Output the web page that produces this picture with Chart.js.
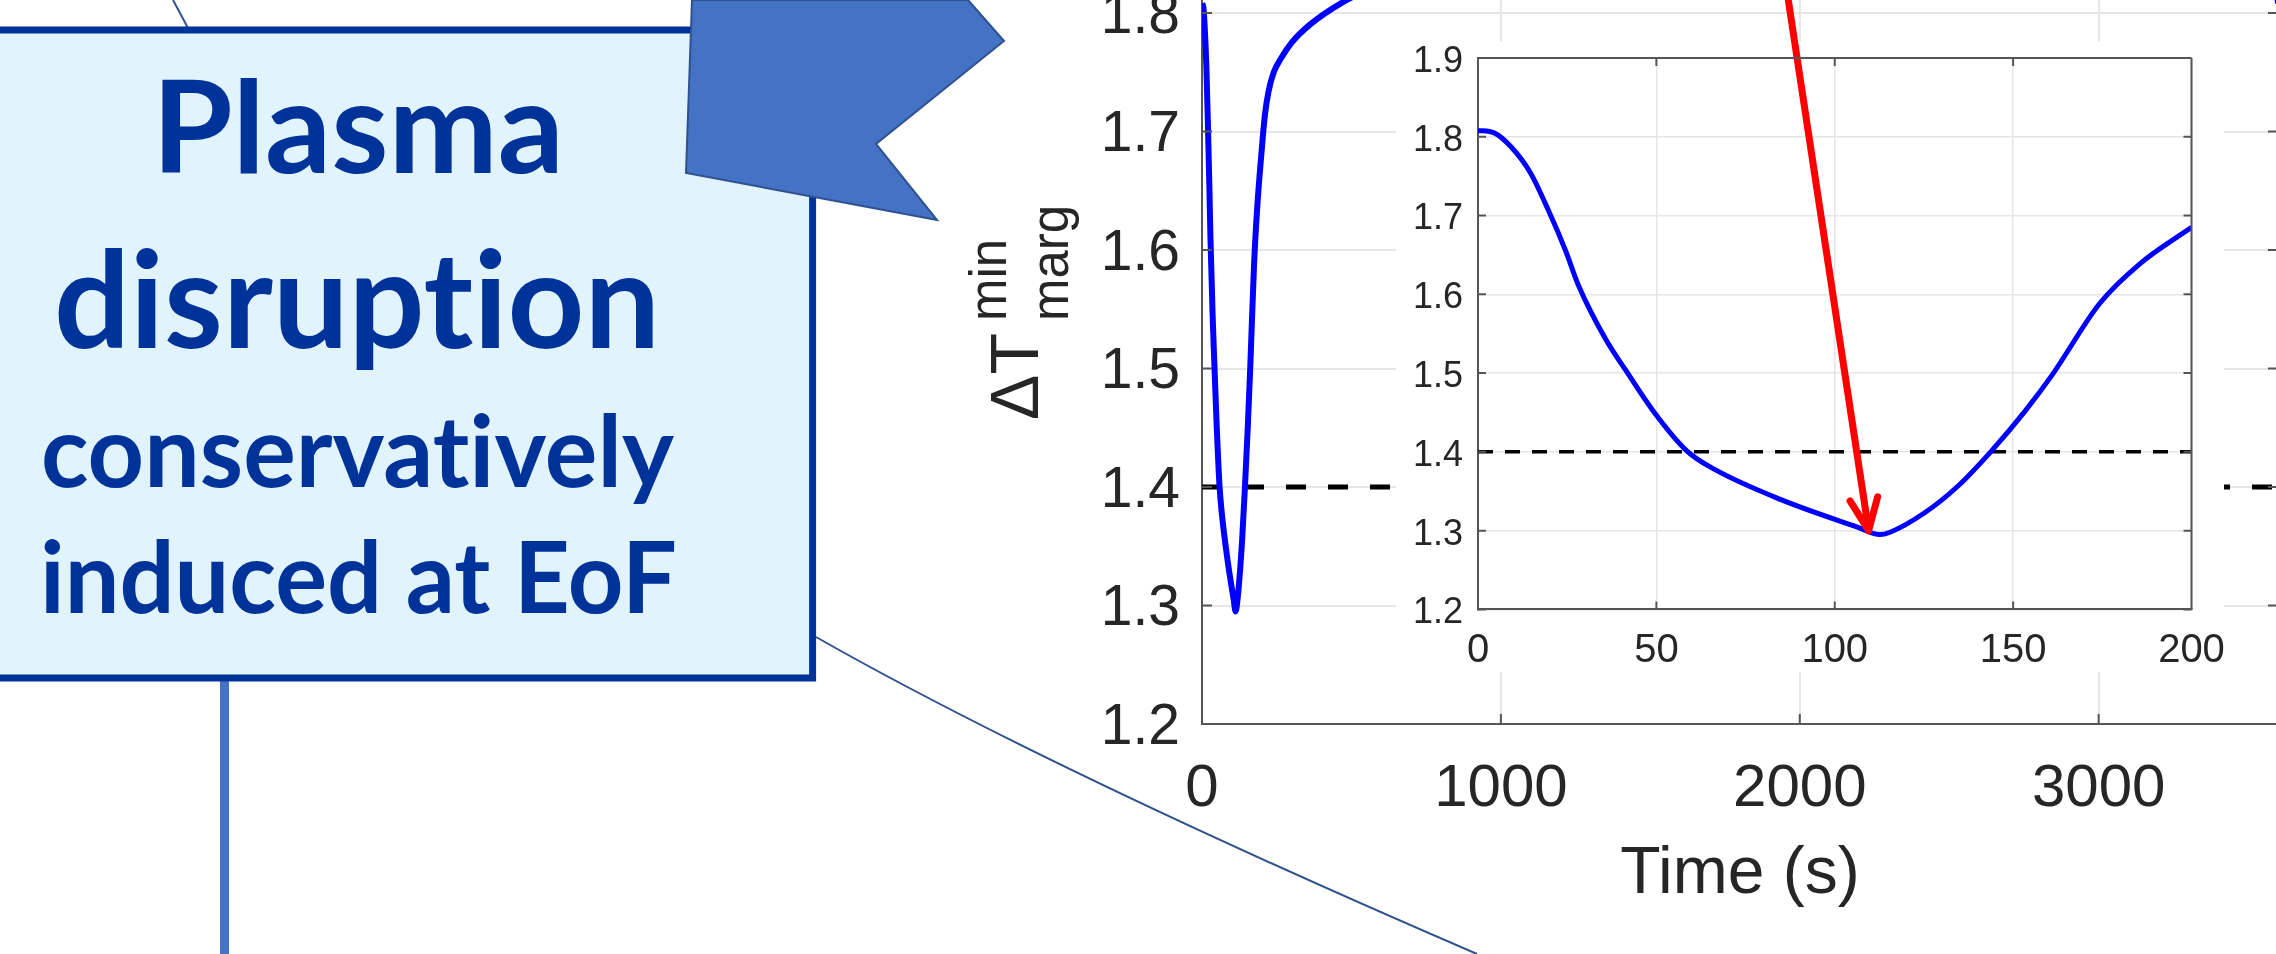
<!DOCTYPE html>
<html lang="en">
<head>
<meta charset="UTF-8">
<title>Plasma disruption - minimum temperature margin</title>
<script src="https://cdn.jsdelivr.net/npm/chart.js"></script>
<style>
  html, body { margin: 0; padding: 0; background: #fff; overflow: hidden; }
  #stage { position: relative; width: 2276px; height: 954px; overflow: hidden; }
  #mainChart { position: absolute; left: 0; top: 0; }
  #insetChart { position: absolute; left: 1396px; top: 0; }
  #notes { position: absolute; left: 0; top: 0; pointer-events: none; }
  #notes text { font-variant-ligatures: none; font-feature-settings: "liga" 0, "clig" 0; }
</style>
</head>
<body>
<div id="stage">
  <canvas id="mainChart" width="2280" height="954"></canvas>
  <canvas id="insetChart" width="828" height="672"></canvas>

  <!-- slide annotation: text box, callout pointer and connectors -->
  <svg id="notes" width="2276" height="954" viewBox="0 0 2276 954">
    <line x1="224.5" y1="678" x2="224.5" y2="954" stroke="#4472c4" stroke-width="9"/>
    <line x1="173" y1="0" x2="188" y2="28" stroke="#2f528f" stroke-width="2"/>
    <path d="M816 637 Q1050 770 1477 954" fill="none" stroke="#2f528f" stroke-width="2"/>
    <rect x="-100" y="30" width="912.6" height="648" fill="#e1f3fd" stroke="#003399" stroke-width="7"/>
    <polygon points="692,0 968,0 1004,41 876,144 937,220 686,173" fill="#4472c4" stroke="#2f528f" stroke-width="2"/>
    <g font-family="Lato, 'Open Sans', sans-serif" font-weight="bold" fill="#003399" text-anchor="middle">
      <text x="358" y="173" font-size="128" textLength="412" lengthAdjust="spacingAndGlyphs">Plasma</text>
      <text x="357" y="348" font-size="134" textLength="606" lengthAdjust="spacingAndGlyphs">disruption</text>
      <text x="357.5" y="487" font-size="100" textLength="633" lengthAdjust="spacingAndGlyphs">conservatively</text>
      <text x="358.5" y="613" font-size="100" textLength="637" lengthAdjust="spacingAndGlyphs">induced at EoF</text>
    </g>
  </svg>
</div>

<script>
// ---- data ----
// zoomed window (first 200 s)
const insetTime   = [0, 4.5, 9.3, 14.6, 19.7, 24.5, 28.2, 35.8, 41.5, 49.1, 58.6, 66.2, 85.1, 106, 112.6, 115.5, 125, 134.4, 143.9, 153.4, 161, 174.2, 185.6, 200];
const insetMargin = [1.808, 1.805, 1.787, 1.755, 1.707, 1.656, 1.611, 1.543, 1.503, 1.452, 1.401, 1.378, 1.339, 1.305, 1.295, 1.298, 1.322, 1.356, 1.401, 1.452, 1.498, 1.588, 1.639, 1.685];
// rest of the full run (mostly above the cropped top)
const tailTime   = [210, 222, 240, 265, 300, 360, 470, 600, 800, 1100, 1600, 2400, 3200, 3500, 3570, 3600];
const tailMargin = [1.713, 1.733, 1.750, 1.762, 1.775, 1.790, 1.809, 1.825, 1.85, 1.87, 1.89, 1.90, 1.91, 1.91, 1.88, 1.808];

const thresholdMargin = 1.4;
const mainXTicks  = [0, 1000, 2000, 3000];
const mainYTicks  = [1.2, 1.3, 1.4, 1.5, 1.6, 1.7, 1.8];
const insetXTicks = [0, 50, 100, 150, 200];
const insetYTicks = [1.2, 1.3, 1.4, 1.5, 1.6, 1.7, 1.8, 1.9];
// red arrow pointing at the minimum (inset data coords)
const arrowTime   = [87, 109.5];
const arrowMargin = [1.973, 1.30];

// ---- styles ----
const fontFamily = "'Liberation Sans', Arial, Helvetica, sans-serif";
const axisGray = '#555555';
const labelGray = '#262626';
const gridGray = '#e6e6e6';
const curveBlue = '#0000ff';
const arrowRed = '#ff0000';

const toPoints = (xs, ys) => xs.map((x, i) => ({ x: x, y: ys[i] }));
const fixedTicks = list => axis => { axis.ticks = list.map(v => ({ value: v })); };

// MATLAB style box: closing spines and inward tick marks
function boxPlugin(id, tickLen, drawTop) {
  return {
    id: id,
    afterDraw(chart) {
      const { ctx, chartArea: a, scales: { x, y } } = chart;
      ctx.save();
      ctx.strokeStyle = axisGray;
      ctx.lineWidth = 2;
      ctx.beginPath();
      ctx.moveTo(a.right, a.bottom);
      ctx.lineTo(a.right, a.top);
      if (drawTop) {
        ctx.moveTo(a.left, a.top);
        ctx.lineTo(a.right, a.top);
      }
      x.ticks.forEach(t => {
        const px = x.getPixelForValue(t.value);
        ctx.moveTo(px, a.bottom);
        ctx.lineTo(px, a.bottom - tickLen);
        if (drawTop) {
          ctx.moveTo(px, a.top);
          ctx.lineTo(px, a.top + tickLen);
        }
      });
      y.ticks.forEach(t => {
        const py = y.getPixelForValue(t.value);
        ctx.moveTo(a.left, py);
        ctx.lineTo(a.left + tickLen, py);
        ctx.moveTo(a.right, py);
        ctx.lineTo(a.right - tickLen, py);
      });
      ctx.stroke();
      ctx.restore();
    }
  };
}

// y axis label with stacked super/subscript
const yLabelPlugin = {
  id: 'yLabel',
  afterDraw(chart) {
    const ctx = chart.ctx;
    ctx.save();
    ctx.translate(1038, 420);
    ctx.rotate(-Math.PI / 2);
    ctx.fillStyle = labelGray;
    ctx.textBaseline = 'alphabetic';
    ctx.font = '68px ' + fontFamily;
    ctx.fillText('\u0394T', 0, 0);
    const w = ctx.measureText('\u0394T').width + 12;
    ctx.font = '51px ' + fontFamily;
    ctx.fillText('min', w, -32);
    ctx.fillText('marg', w, 30);
    ctx.restore();
  }
};

const insetBackground = {
  id: 'insetBackground',
  beforeDraw(chart) {
    const ctx = chart.ctx;
    ctx.save();
    ctx.fillStyle = '#ffffff';
    ctx.fillRect(0, 42, chart.width, chart.height - 42);
    ctx.restore();
  }
};

const arrowHead = {
  id: 'arrowHead',
  afterDatasetsDraw(chart) {
    const pts = chart.getDatasetMeta(0).data;
    const tip = pts[pts.length - 1], tail = pts[pts.length - 2];
    const ang = Math.atan2(tip.y - tail.y, tip.x - tail.x);
    const ctx = chart.ctx;
    ctx.save();
    ctx.strokeStyle = arrowRed;
    ctx.lineWidth = 7;
    ctx.lineCap = 'round';
    ctx.beginPath();
    [-1, 1].forEach(s => {
      const a = ang + Math.PI + s * 0.41;
      ctx.moveTo(tip.x + 35 * Math.cos(a), tip.y + 35 * Math.sin(a));
      ctx.lineTo(tip.x, tip.y);
    });
    ctx.stroke();
    ctx.restore();
  }
};

Chart.defaults.font.family = fontFamily;
Chart.defaults.color = labelGray;

// ---- main chart (full run) ----
new Chart(document.getElementById('mainChart'), {
  type: 'scatter',
  data: {
    datasets: [{
      data: toPoints(insetTime, insetMargin).concat(toPoints(tailTime, tailMargin)),
      showLine: true,
      borderColor: curveBlue,
      borderWidth: 6,
      pointRadius: 0,
      cubicInterpolationMode: 'monotone'
    }, {
      data: toPoints([0, 3600], [thresholdMargin, thresholdMargin]),
      showLine: true,
      borderColor: '#000000',
      borderWidth: 5,
      borderDash: [20, 22],
      pointRadius: 0
    }]
  },
  options: {
    responsive: false,
    devicePixelRatio: 1,
    animation: false,
    layout: { padding: { left: 0, right: 2, top: 0, bottom: 0 } },
    plugins: { legend: { display: false }, tooltip: { enabled: false } },
    scales: {
      x: {
        type: 'linear', min: 0, max: 3600,
        afterBuildTicks: fixedTicks(mainXTicks),
        afterFit: s => { s.height = 230; s.paddingLeft = 0; s.paddingRight = 0; },
        grid: { color: gridGray, lineWidth: 2, drawTicks: false },
        border: { color: axisGray, width: 2 },
        ticks: { font: { size: 60 }, color: labelGray, padding: 29, autoSkip: false, maxRotation: 0,
                 callback: v => String(v) },
        title: { display: true, text: 'Time (s)', font: { size: 66 }, color: labelGray, padding: { top: 0, bottom: 40 } }
      },
      y: {
        min: 1.2, max: 1.811,
        afterBuildTicks: fixedTicks(mainYTicks),
        afterFit: s => { s.width = 1202; s.paddingTop = 0; s.paddingBottom = 0; },
        grid: { color: gridGray, lineWidth: 2, drawTicks: false },
        border: { color: axisGray, width: 2 },
        ticks: { font: { size: 57 }, color: labelGray, padding: 22, labelOffset: 4, autoSkip: false,
                 callback: v => v.toFixed(1) }
      }
    }
  },
  plugins: [boxPlugin('mainBox', 10, false), yLabelPlugin]
});

// ---- inset (first 200 s) ----
new Chart(document.getElementById('insetChart'), {
  type: 'scatter',
  data: {
    datasets: [{
      data: toPoints(arrowTime, arrowMargin),
      showLine: true,
      borderColor: arrowRed,
      borderWidth: 7,
      borderCapStyle: 'round',
      pointRadius: 0,
      clip: false
    }, {
      data: toPoints(insetTime, insetMargin),
      showLine: true,
      borderColor: curveBlue,
      borderWidth: 5,
      pointRadius: 0,
      cubicInterpolationMode: 'monotone'
    }, {
      data: toPoints([0, 200], [thresholdMargin, thresholdMargin]),
      showLine: true,
      borderColor: '#000000',
      borderWidth: 3.5,
      borderDash: [15, 12],
      pointRadius: 0
    }]
  },
  options: {
    responsive: false,
    devicePixelRatio: 1,
    animation: false,
    layout: { padding: { left: 0, right: 32.5, top: 58, bottom: 0 } },
    plugins: { legend: { display: false }, tooltip: { enabled: false } },
    scales: {
      x: {
        type: 'linear', min: 0, max: 200,
        afterBuildTicks: fixedTicks(insetXTicks),
        afterFit: s => { s.height = 62.6; s.paddingLeft = 0; s.paddingRight = 0; },
        grid: { color: gridGray, lineWidth: 1.5, drawTicks: false },
        border: { color: axisGray, width: 2 },
        ticks: { font: { size: 40 }, color: labelGray, padding: 18, autoSkip: false, maxRotation: 0,
                 callback: v => String(v) }
      },
      y: {
        min: 1.2, max: 1.9,
        afterBuildTicks: fixedTicks(insetYTicks),
        afterFit: s => { s.width = 82; s.paddingTop = 0; s.paddingBottom = 0; },
        grid: { color: gridGray, lineWidth: 1.5, drawTicks: false },
        border: { color: axisGray, width: 2 },
        ticks: { font: { size: 36 }, color: labelGray, padding: 15, labelOffset: 4, autoSkip: false,
                 callback: v => v.toFixed(1) }
      }
    }
  },
  plugins: [insetBackground, boxPlugin('insetBox', 8, true), arrowHead]
});
</script>
</body>
</html>
